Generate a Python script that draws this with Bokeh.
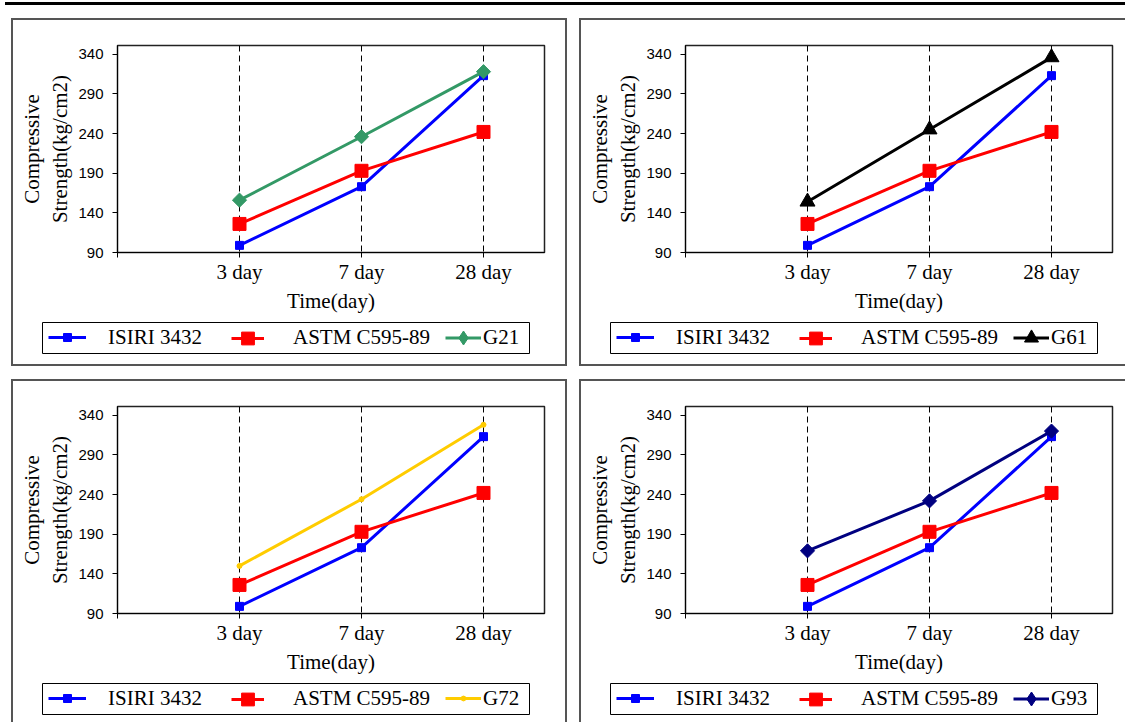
import math
from bokeh.plotting import figure
from bokeh.layouts import column, row
from bokeh.models import Range1d, FixedTicker, Span, Legend, LegendItem, Spacer
from bokeh.embed import file_html
from bokeh.resources import INLINE

# ---------------- data ----------------
categories = ["3 day", "7 day", "28 day"]
y_ticks = [90, 140, 190, 240, 290, 340]
isiri_3432 = [99, 173, 313]
astm_c595_89 = [126, 193, 242]
g21 = [156, 236, 318]
g61 = [154, 245, 336]
g72 = [150, 234, 328]
g93 = [169, 232, 320]

# ---------------- styles ----------------
SERIF = "Liberation Serif"
SANS = "Liberation Sans"
B = 2
BCOL = "#555555"
STYLE = {
    "ISIRI 3432": dict(color="#0000FF", marker="square", size=8, angle=0.0,
                       leg_marker="square", leg_size=8),
    "ASTM C595-89": dict(color="#FF0000", marker="square", size=13, angle=0.0,
                         leg_marker="square", leg_size=13),
    "G21": dict(color="#339966", marker="square", size=10, angle=math.pi / 4,
                leg_marker="diamond", leg_size=14),
    "G61": dict(color="#000000", marker="triangle", size=15, angle=0.0,
                leg_marker="triangle", leg_size=14),
    "G72": dict(color="#FFCC00", marker="circle", size=5, angle=0.0,
                leg_marker="circle", leg_size=5),
    "G93": dict(color="#000080", marker="square", size=10, angle=math.pi / 4,
                leg_marker="diamond", leg_size=14),
}
SLOTS = [dict(x=6, gw=38, so=22), dict(x=189, gw=33, so=29), dict(x=403, gw=36, so=2)]
PLOT_H = 297


def make_panel(third_name, third_vals, canvas_w, canvas_h, border):
    xs = [i + 1 for i in range(len(categories))]
    p = figure(width=canvas_w, height=PLOT_H,
               x_range=Range1d(0, len(categories) + 0.5), y_range=Range1d(90, 351),
               output_backend="svg", toolbar_location=None,
               min_border_left=106 - B, min_border_right=canvas_w - (533 - B),
               min_border_top=27 - B, min_border_bottom=PLOT_H - (234 - B))
    p.frame_align = False
    p.grid.visible = False
    p.background_fill_color = "white"
    p.border_fill_color = "white"
    p.outline_line_color = "#222222"
    p.outline_line_width = 1.5

    for x in xs:
        p.add_layout(Span(location=x, dimension="height", line_color="black",
                          line_width=1, line_dash="6 4", level="underlay"))

    series = [("ISIRI 3432", isiri_3432), ("ASTM C595-89", astm_c595_89), (third_name, third_vals)]
    for name, vals in series:
        st = STYLE[name]
        p.line(xs, vals, line_color=st["color"], line_width=3)
        p.scatter(xs, vals, marker=st["marker"], size=st["size"], angle=st["angle"],
                  fill_color=st["color"], line_color=st["color"])

    xa = p.xaxis[0]
    xa.ticker = FixedTicker(ticks=xs, minor_ticks=[0])
    xa.major_label_overrides = {x: c for x, c in zip(xs, categories)}
    xa.axis_label = "Time(day)"
    ya = p.yaxis[0]
    ya.ticker = FixedTicker(ticks=y_ticks, minor_ticks=[])
    ya.axis_label = "Compressive\nStrength(kg/cm2)"
    for ax in (xa, ya):
        ax.axis_line_color = "black"
        ax.axis_line_width = 1
        ax.major_tick_line_color = "black"
        ax.major_tick_in = 0
        ax.major_tick_out = 5
        ax.axis_label_text_font = SERIF
        ax.axis_label_text_font_size = "21px"
        ax.axis_label_text_font_style = "normal"
        ax.axis_label_text_color = "black"
        ax.major_label_text_color = "black"
    xa.minor_tick_line_color = "black"
    xa.minor_tick_in = 0
    xa.minor_tick_out = 5
    ya.minor_tick_line_color = None
    xa.major_label_text_font = SERIF
    xa.major_label_text_font_size = "21px"
    xa.major_label_standoff = 2
    xa.axis_label_standoff = 2
    ya.major_label_text_font = SANS
    ya.major_label_text_font_size = "15px"
    ya.major_label_standoff = 9
    ya.axis_label_standoff = 3

    # legend strip (its frame is the legend box)
    lf_h = canvas_h - PLOT_H
    top_in = (304 - B) - PLOT_H
    lf = figure(width=canvas_w, height=lf_h, x_range=Range1d(-2, -1), y_range=Range1d(-2, -1),
                output_backend="svg", toolbar_location=None,
                x_axis_location=None, y_axis_location=None,
                min_border_left=31 - B, min_border_right=canvas_w - (518 - B),
                min_border_top=top_in, min_border_bottom=lf_h - top_in - 31)
    lf.frame_align = False
    lf.grid.visible = False
    lf.background_fill_color = "white"
    lf.border_fill_color = "white"
    lf.outline_line_color = "black"
    lf.outline_line_width = 1
    for slot, (name, vals) in zip(SLOTS, series):
        st = STYLE[name]
        # same series, out of this strip's view: only their legend samples show
        lr = lf.line(xs, vals, line_color=st["color"], line_width=3)
        sr = lf.scatter(xs, vals, marker=st["leg_marker"],
                        fill_color=st["color"], line_color=st["color"])
        gh = int(round(st["leg_size"] / 0.4))
        h = max(gh, 24)
        leg = Legend(items=[LegendItem(label=name, renderers=[lr, sr])],
                     location=(slot["x"], 15.5 - h / 2), orientation="horizontal",
                     glyph_width=slot["gw"], glyph_height=gh, label_standoff=slot["so"],
                     padding=0, margin=0, spacing=0,
                     border_line_alpha=0, background_fill_alpha=0,
                     label_text_font=SERIF, label_text_font_size="21px",
                     label_text_color="black")
        lf.add_layout(leg, "center")

    return column(p, lf, styles=border, spacing=0)


bs = f"{B}px solid {BCOL}"
pan1 = make_panel("G21", g21, 552, 344, {"border": bs})
pan2 = make_panel("G61", g61, 544, 344, {"border-left": bs, "border-top": bs, "border-bottom": bs})
pan3 = make_panel("G72", g72, 552, 341, {"border-left": bs, "border-top": bs, "border-right": bs})
pan4 = make_panel("G93", g93, 544, 341, {"border-left": bs, "border-top": bs})

top_line = Spacer(width=1120, height=3, styles={"background-color": "black"})
layout = column(
    Spacer(width=10, height=2),
    row(Spacer(width=5, height=3), top_line),
    Spacer(width=10, height=13),
    row(Spacer(width=11, height=10), pan1, Spacer(width=12, height=10), pan2),
    Spacer(width=10, height=13),
    row(Spacer(width=11, height=10), pan3, Spacer(width=12, height=10), pan4),
)

open("out.html", "w").write(file_html(layout, INLINE))
